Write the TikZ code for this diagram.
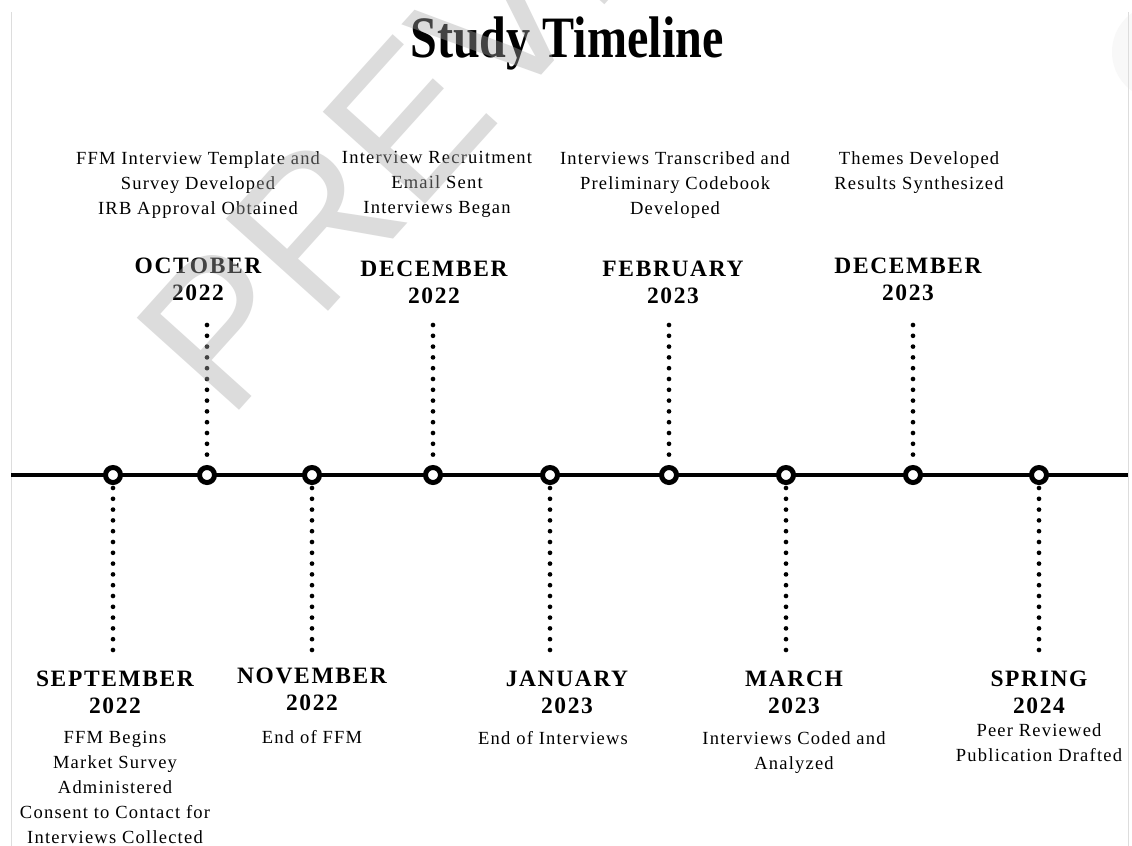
\documentclass[tikz,border=0pt]{standalone}
\usepackage{fontspec}
\setmainfont{Liberation Serif}
\usetikzlibrary{positioning}
\newfontfamily\descFont[LetterSpace=6.5]{Liberation Serif}
\newfontfamily\monthFont[LetterSpace=7]{Liberation Serif}
\newfontfamily\titleFont[FakeStretch=0.82]{Liberation Serif}
\newfontfamily\markFont{Liberation Sans}
\definecolor{frameGray}{HTML}{DDDDDD}
\definecolor{markGray}{HTML}{A8A8A8}
\definecolor{blobGray}{HTML}{F8F8F8}
\tikzset{
  axisLine/.style={line width=3pt, black},
  evDot/.style={circle, draw=black, fill=white, line width=3.75pt,
                minimum size=11.25pt, inner sep=0pt},
  dotLine/.style={line width=3.5pt, line cap=round, dash pattern=on 0pt off 8.1pt},
  monthLbl/.style={anchor=north, inner sep=0pt, align=center,
                   font=\monthFont\bfseries\fontsize{17.6}{20.25}\selectfont},
  descLbl/.style={anchor=north, inner sep=0pt, align=center,
                  font=\descFont\fontsize{13.9}{18.75}\selectfont},
}
\begin{document}
\begin{tikzpicture}[x=0.75pt, y=-0.75pt]
  \useasboundingbox (0,0) rectangle (1132,846);
  \clip (0,0) rectangle (1132,846);
  \fill[white] (0,0) rectangle (1132,846);
  % page edges
  \fill[blobGray] (1160,52) circle[radius=48];
  \draw[frameGray, line width=0.75pt] (11,12) -- (11,846);
  \draw[frameGray, line width=0.75pt] (1128,12) -- (1128,846);

  \node[anchor=base, inner sep=0pt,
        font=\titleFont\bfseries\fontsize{44}{44}\selectfont] (title) at (567,57) {Study Timeline};

  % axis with the event dots
  \draw[axisLine] (11,475) -- (1128,475);
  \foreach \i/\x in {1/113, 2/207, 3/312, 4/433, 5/550, 6/669, 7/786, 8/913, 9/1039}
    \node[evDot] (e\i) at (\x,475) {};
  \foreach \i/\x in {1/113, 3/312, 5/550, 7/786, 9/1039}
    \coordinate (s\i) at (\x,650);
  \foreach \i/\x in {2/207, 4/433, 6/669, 8/913}
    \coordinate (s\i) at (\x,325);
  \foreach \i in {1,...,9}
    \draw[dotLine] (s\i) -- (e\i);

  % above the axis
  \node[monthLbl] (m2) at (198,258) {OCTOBER\\2022};
  \node[monthLbl] (m4) at (434,261) {DECEMBER\\2022};
  \node[monthLbl] (m6) at (673,261) {FEBRUARY\\2023};
  \node[monthLbl] (m8) at (908,258) {DECEMBER\\2023};
  \node[descLbl] (d2) at (198,151) {FFM Interview Template and\\Survey Developed\\IRB Approval Obtained};
  \node[descLbl] (d4) at (437,151) {Interview Recruitment\\Email Sent\\Interviews Began};
  \node[descLbl] (d6) at (675,151) {Interviews Transcribed and\\Preliminary Codebook\\Developed};
  \node[descLbl] (d8) at (919,151) {Themes Developed\\Results Synthesized};

  % below the axis
  \node[monthLbl] (m1) at (115,671) {SEPTEMBER\\2022};
  \node[monthLbl] (m3) at (312,668) {NOVEMBER\\2022};
  \node[monthLbl] (m5) at (567,671) {JANUARY\\2023};
  \node[monthLbl] (m7) at (794,671) {MARCH\\2023};
  \node[monthLbl] (m9) at (1039,671) {SPRING\\2024};
  \node[descLbl, below=12.5pt of m1] (d1) {FFM Begins\\Market Survey\\Administered\\Consent to Contact for\\Interviews Collected};
  \node[descLbl, below=14.5pt of m3] (d3) {End of FFM};
  \node[descLbl, below=12.5pt of m5, xshift=-10.5pt] (d5) {End of Interviews};
  \node[descLbl, below=12.5pt of m7] (d7) {Interviews Coded and\\Analyzed};
  \node[descLbl, below=6.5pt of m9] (d9) {Peer Reviewed\\Publication Drafted};

  % watermark
  \node[rotate=48, anchor=base west, inner sep=0pt, text=markGray, opacity=0.4,
        font=\markFont\fontsize{150}{150}\selectfont] (mark) at (228,423) {PREVIEW};
\end{tikzpicture}
\end{document}
